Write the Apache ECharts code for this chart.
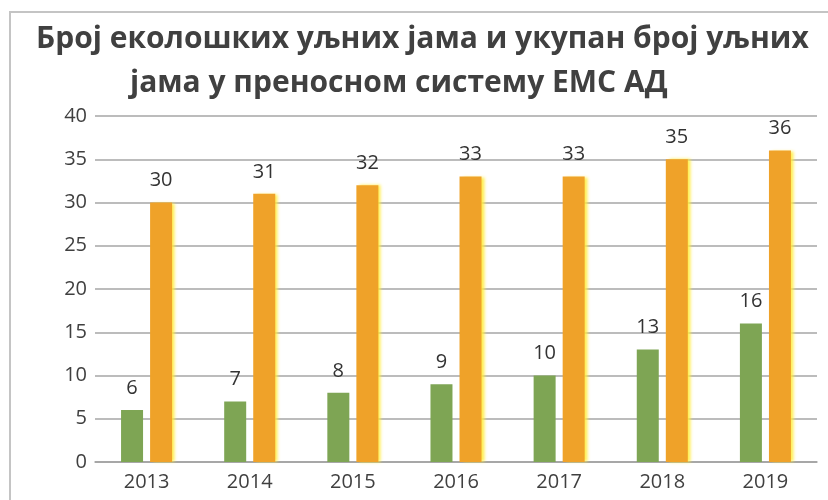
<!DOCTYPE html>
<html>
<head>
<meta charset="utf-8">
<script src="https://cdn.jsdelivr.net/npm/echarts@6/dist/echarts.min.js"></script>
<style>
  html, body { margin: 0; padding: 0; background: #fff; }
  #chart { width: 828px; height: 500px; }
</style>
</head>
<body>
<div id="chart"></div>
<script>
// Years on the category axis
const years = ['2013', '2014', '2015', '2016', '2017', '2018', '2019'];
// Ecological oil pits
const ecoPits = [6, 7, 8, 9, 10, 13, 16];
// Total oil pits
const totalPits = [30, 31, 32, 33, 33, 35, 36];
// Value axis ticks
const yTicks = [0, 5, 10, 15, 20, 25, 30, 35, 40];
// Two-line heading
const titleLines = [
  'Број еколошких уљних јама и укупан број уљних',
  'јама у преносном систему ЕМС АД'
];

const chart = echarts.init(document.getElementById('chart'), null, { renderer: 'canvas' });

const font = '"Open Sans", "DejaVu Sans", sans-serif';
const labelStyle = {
  show: true,
  position: 'top',
  distance: 12,
  color: '#333333',
  fontSize: 20,
  fontFamily: font
};
const titleText = {
  fontFamily: font,
  fontWeight: 'bold',
  fontSize: 30,
  lineHeight: 40,
  color: '#404040'
};

chart.setOption({
  animation: false,
  backgroundColor: '#fff',
  graphic: [{
    type: 'rect',
    shape: { x: 10, y: 12, width: 840, height: 520 },
    style: { fill: 'none', stroke: '#c4c4c4', lineWidth: 2 },
    silent: true
  }],
  title: [
    { text: titleLines[0], left: 36, top: 19, padding: 0, textStyle: titleText },
    { text: titleLines[1], left: 130, top: 63, padding: 0, textStyle: titleText }
  ],
  grid: { left: 95, right: 11, top: 116, bottom: 38, containLabel: false },
  xAxis: {
    type: 'category',
    data: years,
    axisLine: { lineStyle: { color: '#a0a0a0', width: 1.5 } },
    axisTick: { show: false },
    axisLabel: { color: '#404040', fontSize: 20, fontFamily: font, margin: 10 }
  },
  yAxis: {
    type: 'value',
    min: yTicks[0],
    max: yTicks[yTicks.length - 1],
    interval: yTicks[1] - yTicks[0],
    axisLine: { show: false },
    axisTick: { show: false },
    axisLabel: { color: '#404040', fontSize: 20, fontFamily: font, margin: 8 },
    splitLine: { lineStyle: { color: '#a6a6a6', width: 1.5 } }
  },
  series: [
    {
      name: 'еколошке уљне јаме',
      type: 'bar',
      data: ecoPits,
      barWidth: 22,
      barGap: '32%',
      itemStyle: { color: '#7ea554' },
      label: labelStyle
    },
    {
      name: 'укупно уљних јама',
      type: 'bar',
      data: totalPits,
      barWidth: 22,
      itemStyle: {
        color: '#efa229',
        shadowColor: 'rgba(255, 236, 60, 0.9)',
        shadowBlur: 3,
        shadowOffsetX: 3
      },
      label: labelStyle
    }
  ]
});
</script>
</body>
</html>
